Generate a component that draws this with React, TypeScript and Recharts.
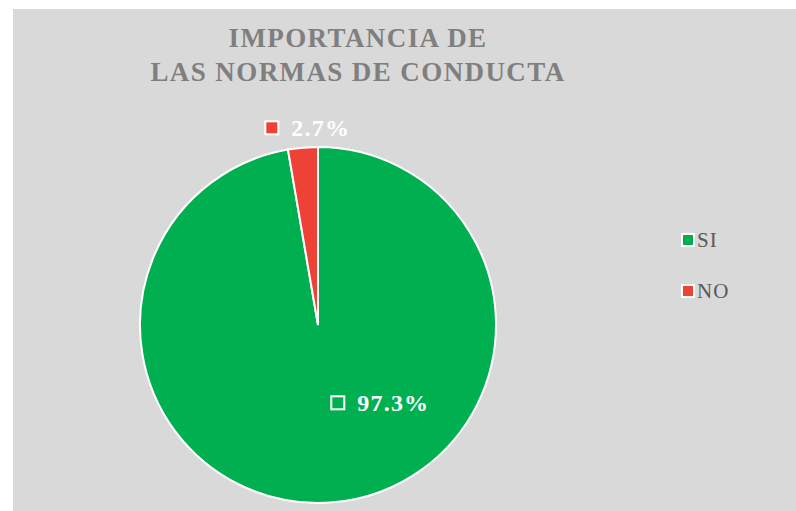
import React from "react";
import { PieChart, Pie, Cell, Legend } from "recharts";

const categories = ["SI", "NO"];
const values = [97.3, 2.7];
const colors = ["#00b050", "#ee4236"];
const titleLines = ["IMPORTANCIA DE", "LAS NORMAS DE CONDUCTA"];

const data = categories.map((name, i) => ({ name, value: values[i] }));

const FONT = "'Liberation Serif', 'Times New Roman', serif";

const renderLabel = (props: any) => {
  const { cx, cy, index, value, outerRadius } = props;
  const txt = `${value.toFixed(1)}%`;
  if (index === 0) {
    const x = cx + outerRadius * 0.35;
    const y = cy + outerRadius * 0.44;
    return (
      <g>
        <rect x={x - 49} y={y - 7} width={13} height={13} fill="none" stroke="#ffffff" strokeWidth={2} />
        <text x={x - 23} y={y + 8} fill="#ffffff" fontFamily={FONT} fontWeight="bold" fontSize={24} letterSpacing={1.2}>
          {txt}
        </text>
      </g>
    );
  }
  const x = cx - outerRadius * 0.06;
  const y = cy - outerRadius * 1.105;
  return (
    <g>
      <rect x={x - 42} y={y - 7} width={13} height={13} fill={colors[1]} stroke="#ffffff" strokeWidth={2} />
      <text x={x - 16} y={y + 8} fill="#ffffff" fontFamily={FONT} fontWeight="bold" fontSize={24} letterSpacing={1.2}>
        {txt}
      </text>
    </g>
  );
};

const renderLegend = () => (
  <div style={{ fontFamily: FONT, fontSize: 21, letterSpacing: 1, color: "#595959" }}>
    {categories.map((c, i) => (
      <div key={c} style={{ display: "flex", alignItems: "center", height: 26, marginBottom: 25 }}>
        <span
          style={{
            display: "inline-block",
            width: 10,
            height: 10,
            background: colors[i],
            border: "2px solid #ffffff",
            marginRight: 2,
          }}
        />
        <span>{c}</span>
      </div>
    ))}
  </div>
);

export default function App() {
  return (
    <div
      style={{
        position: "absolute",
        left: 13,
        top: 9,
        width: 783,
        height: 502,
        background: "#d9d9d9",
        overflow: "hidden",
      }}
    >
      <div
        style={{
          position: "absolute",
          left: 45,
          width: 600,
          top: 12,
          textAlign: "center",
          whiteSpace: "nowrap",
          fontFamily: FONT,
          fontWeight: "bold",
          fontSize: 27,
          letterSpacing: 1.4,
          lineHeight: "34px",
          color: "#7f7f7f",
          zIndex: 2,
        }}
      >
        {titleLines.map((t) => (
          <div key={t}>{t}</div>
        ))}
      </div>
      <PieChart
        width={783}
        height={502}
        margin={{ top: 0, right: 0, bottom: 0, left: 0 }}
        style={{ position: "absolute", left: 0, top: 0 }}
      >
        <Pie
          data={data}
          dataKey="value"
          nameKey="name"
          cx={305}
          cy={316}
          outerRadius={178}
          startAngle={90}
          endAngle={-270}
          stroke="#ffffff"
          strokeWidth={2}
          label={renderLabel}
          labelLine={false}
          isAnimationActive={false}
        >
          {data.map((d, i) => (
            <Cell key={d.name} fill={colors[i]} />
          ))}
        </Pie>
        <Legend
          layout="vertical"
          align="right"
          verticalAlign="top"
          content={renderLegend}
          wrapperStyle={{ left: 668, top: 218, width: 100 }}
        />
      </PieChart>
    </div>
  );
}
